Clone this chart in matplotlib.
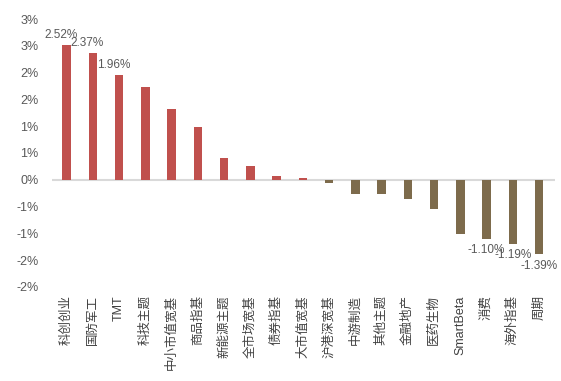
import numpy as np
import matplotlib.pyplot as plt

plt.rcParams['font.family'] = ['Liberation Sans', 'Noto Sans CJK SC', 'DejaVu Sans']

# Data
categories = ['科创创业', '国防军工', 'TMT', '科技主题', '中小市值宽基', '商品指基', '新能源主题',
              '全市场宽基', '债券指基', '大市值宽基', '沪港深宽基', '中游制造', '其他主题', '金融地产',
              '医药生物', 'SmartBeta', '消费', '海外指基', '周期']
values = [2.52, 2.37, 1.96, 1.74, 1.33, 0.98, 0.41, 0.25, 0.07, 0.03, -0.06, -0.26, -0.26, -0.36,
          -0.55, -1.02, -1.10, -1.19, -1.39]
yticks = [-2.0, -1.5, -1.0, -0.5, 0.0, 0.5, 1.0, 1.5, 2.0, 2.5, 3.0]
yticklabels = ['-2%', '-2%', '-1%', '-1%', '0%', '1%', '1%', '2%', '2%', '3%', '3%']
labelled = [0, 1, 2, 16, 17, 18]

# Colors
posColor = '#C0504D'
negColor = '#7D6B4C'
textColor = '#595959'

fig = plt.figure(figsize=(5.61, 3.81), dpi=100)
ax = fig.add_axes([0.093, 0.247, 0.896, 0.703])

x = np.arange(len(categories))
colors = [posColor if v >= 0 else negColor for v in values]
ax.bar(x, values, width=0.32, color=colors, zorder=3)

# Zero line
ax.axhline(0, color='#d9d9d9', lw=1.5, zorder=2)

# Data labels
for i in labelled:
    v = values[i]
    if v >= 0:
        ax.annotate('%.2f%%' % v, xy=(x[i], v), xytext=(-4, 3), textcoords='offset points',
                    ha='center', va='bottom', fontsize=8.5, color=textColor)
    else:
        ax.annotate('%.2f%%' % v, xy=(x[i], v), xytext=(0, -4), textcoords='offset points',
                    ha='center', va='top', fontsize=8.5, color=textColor)

ax.set_ylim(-2.0, 3.0)
ax.set_xlim(-0.55, len(categories) - 0.4)
ax.set_yticks(yticks)
ax.set_yticklabels(yticklabels, fontsize=9, color=textColor)
ax.set_xticks(x)
ax.set_xticklabels(categories, rotation=90, fontsize=9, color='#404040')
ax.tick_params(axis='both', length=0)
ax.tick_params(axis='x', pad=6)
ax.tick_params(axis='y', pad=10)
for spine in ax.spines.values():
    spine.set_visible(False)

plt.savefig('out.png', dpi=100)
